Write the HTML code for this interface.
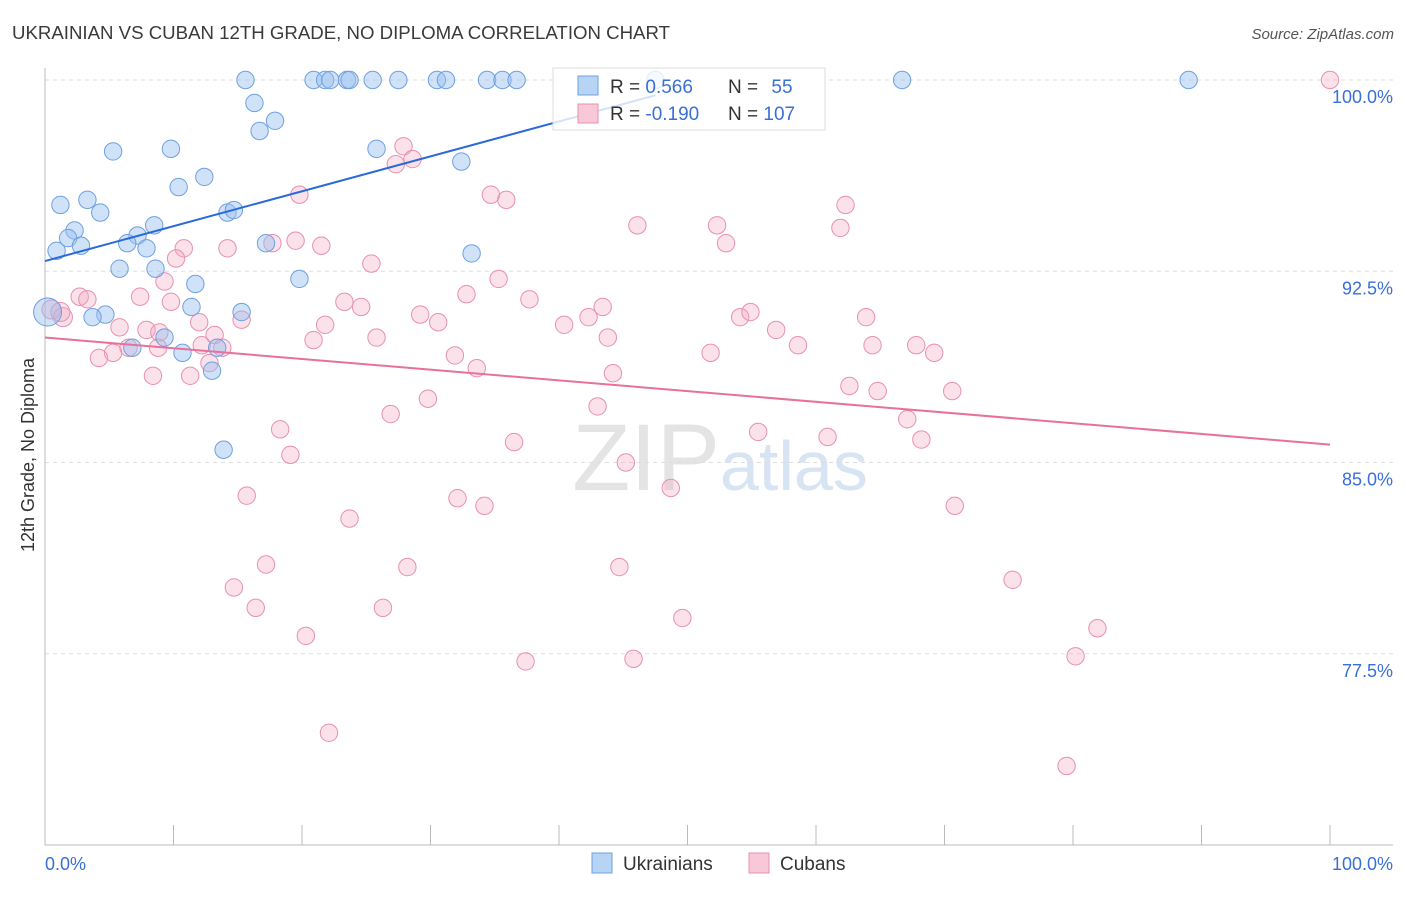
<!DOCTYPE html>
<html><head><meta charset="utf-8">
<style>
body{margin:0;background:#fff;font-family:"Liberation Sans",sans-serif;}
svg text{font-family:"Liberation Sans",sans-serif;}
</style></head>
<body>
<svg id="chart" width="1406" height="892" xmlns="http://www.w3.org/2000/svg">
<text x="12" y="39" font-size="18" fill="#3a3a3a" textLength="658" lengthAdjust="spacingAndGlyphs">UKRAINIAN VS CUBAN 12TH GRADE, NO DIPLOMA CORRELATION CHART</text>
<text x="1394" y="39" font-size="15" fill="#555" font-style="italic" text-anchor="end">Source: ZipAtlas.com</text>
<text x="720" y="490" font-size="95" fill="#e4e4e4" text-anchor="end" font-family="Liberation Serif">ZIP</text>
<text x="720" y="490" font-size="70" fill="#d6e4f4">atlas</text>
<g id="grid"></g>
<g id="axes"></g>
<g id="points"></g>
<g id="trends"></g>
<text transform="translate(34,455) rotate(-90)" font-size="18" fill="#333" text-anchor="middle">12th Grade, No Diploma</text>
<g>
<rect x="553" y="68" width="272" height="62" fill="#fff" fill-opacity="0.8" stroke="#ddd"/>
<rect x="578" y="76" width="20" height="19" fill="#b8d4f4" stroke="#6fa0e0"/>
<rect x="578" y="104" width="20" height="19" fill="#f8c8d8" stroke="#e890b0"/>
<text x="610" y="93" font-size="19" fill="#333">R = <tspan fill="#3a6fd8">0.566</tspan></text>
<text x="728" y="93" font-size="19" fill="#333">N = <tspan fill="#3a6fd8" dx="8">55</tspan></text>
<text x="610" y="120" font-size="19" fill="#333">R = <tspan fill="#3a6fd8">-0.190</tspan></text>
<text x="728" y="120" font-size="19" fill="#333">N = <tspan fill="#3a6fd8">107</tspan></text>
</g>
<g>
<rect x="592" y="853" width="20" height="20" fill="#b8d4f4" stroke="#6fa0e0"/>
<text x="623" y="870" font-size="19" fill="#333">Ukrainians</text>
<rect x="749" y="853" width="20" height="20" fill="#f8c8d8" stroke="#e890b0"/>
<text x="780" y="870" font-size="19" fill="#333">Cubans</text>
</g>
</svg>
<script>
const yTicks=[100,92.5,85,77.5];
const yTickLabels=["100.0%","92.5%","85.0%","77.5%"];
const xLabels=["0.0%","100.0%"];
const ukrX=[15.6,20.9,21.8,22.2,23.5,23.7,25.5,27.5,30.5,31.2,34.4,35.6,36.7,47.5,66.7,89.0,16.3,17.9,16.7,5.3,9.8,25.8,32.4,10.4,12.4,1.2,3.3,4.3,14.2,14.7,8.5,2.3,1.8,0.9,2.8,7.2,6.4,7.9,17.2,33.2,5.8,8.6,19.8,11.7,11.4,15.3,4.7,3.7,0.2,9.3,6.8,13.4,10.7,13.0,13.9];
const ukrY=[100,100,100,100,100,100,100,100,100,100,100,100,100,100,100,100,99.1,98.4,98.0,97.2,97.3,97.3,96.8,95.8,96.2,95.1,95.3,94.8,94.8,94.9,94.3,94.1,93.8,93.3,93.5,93.9,93.6,93.4,93.6,93.2,92.6,92.6,92.2,92.0,91.1,90.9,90.8,90.7,90.9,89.9,89.5,89.5,89.3,88.6,85.5];
const cubX=[100,27.9,28.6,27.3,34.7,35.9,19.8,46.1,52.3,62.3,61.9,53.0,10.8,14.2,17.7,19.5,21.5,10.2,25.4,35.3,9.3,7.4,9.8,2.7,3.3,0.5,1.4,1.2,32.8,23.3,24.6,37.7,43.4,42.3,29.2,30.6,40.4,54.1,54.9,63.9,21.8,15.3,12.0,5.8,7.9,20.9,25.8,13.2,8.9,43.8,56.9,58.6,64.4,67.8,69.2,51.8,6.5,5.3,4.2,8.8,12.2,13.8,31.9,33.6,44.2,12.8,8.4,11.3,62.6,64.8,70.6,29.8,43.0,26.9,67.1,18.3,55.5,60.9,68.2,36.5,19.1,45.2,48.7,15.7,32.1,34.2,70.8,23.7,17.2,28.2,44.7,14.7,75.3,16.4,26.3,49.6,20.3,81.9,80.2,37.4,45.8,22.1,79.5];
const cubY=[100,97.4,96.9,96.7,95.5,95.3,95.5,94.3,94.3,95.1,94.2,93.6,93.4,93.4,93.6,93.7,93.5,93.0,92.8,92.2,92.1,91.5,91.3,91.5,91.4,91.0,90.7,90.9,91.6,91.3,91.1,91.4,91.1,90.7,90.8,90.5,90.4,90.7,90.9,90.7,90.4,90.6,90.5,90.3,90.2,89.8,89.9,90.0,90.1,89.9,90.2,89.6,89.6,89.6,89.3,89.3,89.5,89.3,89.1,89.5,89.6,89.5,89.2,88.7,88.5,88.9,88.4,88.4,88.0,87.8,87.8,87.5,87.2,86.9,86.7,86.3,86.2,86.0,85.9,85.8,85.3,85.0,84.0,83.7,83.6,83.3,83.3,82.8,81.0,80.9,80.9,80.1,80.4,79.3,79.3,78.9,78.2,78.5,77.4,77.2,77.3,74.4,73.1];
const ukrTrend=[[0,92.9],[47.5,99.4]];
const cubTrend=[[0,89.9],[100,85.7]];
const NS="http://www.w3.org/2000/svg";
const X=v=>45+v*12.85, Y=v=>80+(100-v)*25.5;
function mk(t,a,p){const e=document.createElementNS(NS,t);for(const k in a)e.setAttribute(k,a[k]);p.appendChild(e);return e;}
const g=document.getElementById('grid'),ax=document.getElementById('axes'),pts=document.getElementById('points'),tr=document.getElementById('trends');
yTicks.forEach((t,i)=>{
 const l=mk('line',{x1:45,x2:1393,y1:Y(t),y2:Y(t),stroke:'#ddd','stroke-dasharray':'4,4'},g);
 
 
 const tx=mk('text',{x:1393,y:Y(t)+23,'font-size':18,fill:'#3a6fd8','text-anchor':'end'},ax);tx.textContent=yTickLabels[i];
 
 
});
mk('line',{x1:45,x2:45,y1:68,y2:845,stroke:'#bbb'},ax);
mk('line',{x1:45,x2:1393,y1:845,y2:845,stroke:'#bbb'},ax);
for(let i=0;i<=10;i++){const t=mk('line',{x1:X(i*10),x2:X(i*10),y1:825,y2:845,stroke:'#bbb'},ax);
 
 }
const l0=mk('text',{x:45,y:870,'font-size':18,fill:'#3a6fd8'},ax);l0.textContent=xLabels[0];


const l1=mk('text',{x:1393,y:870,'font-size':18,fill:'#3a6fd8','text-anchor':'end'},ax);l1.textContent=xLabels[1];


cubX.forEach((x,i)=>{const c=mk('circle',{cx:X(x),cy:Y(cubY[i]),r:(i>=25&&i<=27)?9.5:8.7,fill:'rgba(244,170,196,0.35)',stroke:'#e890b0','stroke-width':1},pts);
 
 });
ukrX.forEach((x,i)=>{const c=mk('circle',{cx:X(x),cy:Y(ukrY[i]),r:(i==48)?14:8.7,fill:'rgba(150,190,240,0.45)',stroke:'#6fa0e0','stroke-width':1},pts);
 
 });
const tu=mk('line',{x1:X(ukrTrend[0][0]),y1:Y(ukrTrend[0][1]),x2:X(ukrTrend[1][0]),y2:Y(ukrTrend[1][1]),stroke:'#2a6ad8','stroke-width':2},tr);


const tc=mk('line',{x1:X(cubTrend[0][0]),y1:Y(cubTrend[0][1]),x2:X(cubTrend[1][0]),y2:Y(cubTrend[1][1]),stroke:'#e8709a','stroke-width':2},tr);


</script>
</body></html>
